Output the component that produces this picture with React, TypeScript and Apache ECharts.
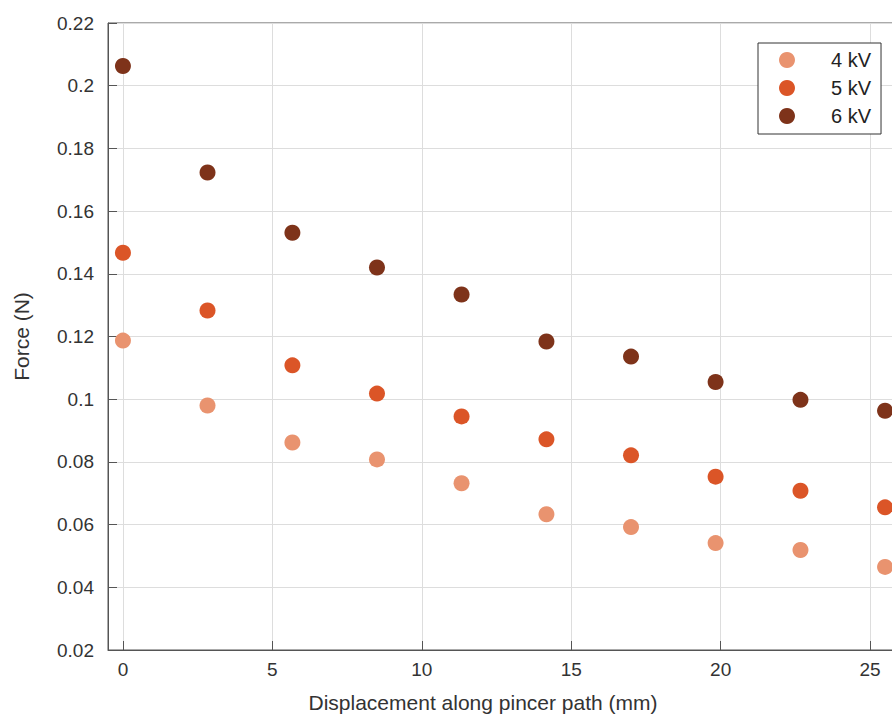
import React, { useEffect, useRef } from "react";
import * as echarts from "echarts";

const displacement = [0, 2.83, 5.67, 8.5, 11.33, 14.17, 17, 19.83, 22.67, 25.5];
const force4kV = [0.1187, 0.098, 0.0862, 0.0808, 0.0732, 0.0633, 0.0592, 0.0541, 0.0519, 0.0465];
const force5kV = [0.1467, 0.1283, 0.1108, 0.1018, 0.0945, 0.0872, 0.0821, 0.0753, 0.0708, 0.0655];
const force6kV = [0.2063, 0.1723, 0.1531, 0.142, 0.1334, 0.1184, 0.1136, 0.1055, 0.0998, 0.0963];
const seriesNames = ["4 kV", "5 kV", "6 kV"];
const seriesColors = ["#E9936F", "#DB5527", "#7E331A"];
const xAxisTitle = "Displacement along pincer path (mm)";
const yAxisTitle = "Force (N)";

const FONT = "'Liberation Sans', Arial, Helvetica, sans-serif";

export default function App() {
  const ref = useRef<HTMLDivElement>(null);
  useEffect(() => {
    if (!ref.current) return;
    const chart = echarts.init(ref.current, undefined, { renderer: "svg" });
    const allValues = [force4kV, force5kV, force6kV];
    chart.setOption({
      animation: false,
      backgroundColor: "#ffffff",
      textStyle: { fontFamily: FONT },
      grid: {
        left: 108,
        top: 23,
        right: 60,
        bottom: 70,
        show: true,
        borderColor: "#555555",
        borderWidth: 1,
      },
      legend: {
        orient: "vertical",
        left: 758,
        top: 43,
        data: seriesNames,
        itemWidth: 16,
        itemHeight: 16,
        itemGap: 8,
        padding: [7, 10, 8, 21],
        borderColor: "#333333",
        borderWidth: 1,
        backgroundColor: "#ffffff",
        textStyle: {
          fontFamily: FONT,
          fontSize: 20,
          color: "#222222",
          padding: [0, 0, 0, 31],
        },
      },
      xAxis: {
        type: "value",
        min: -0.5,
        max: 26,
        name: xAxisTitle,
        nameLocation: "middle",
        nameGap: 42,
        nameTextStyle: {
          fontFamily: FONT,
          fontSize: 21,
          color: "#333333",
          padding: [0, 42, 0, 0],
        },
        axisLine: { show: true, onZero: false, lineStyle: { color: "#555555", width: 1 } },
        axisTick: { show: true, inside: true, length: 9, lineStyle: { color: "#555555" } },
        axisLabel: {
          margin: 10,
          fontSize: 19,
          color: "#333333",
          fontFamily: FONT,
          formatter: (v: number) => (Math.abs(v % 5) < 1e-9 ? String(v) : ""),
        },
        splitLine: { show: true, lineStyle: { color: "#dddddd", width: 1 } },
      },
      yAxis: {
        type: "value",
        min: 0.02,
        max: 0.22,
        interval: 0.02,
        name: yAxisTitle,
        nameLocation: "middle",
        nameGap: 76,
        nameTextStyle: { fontFamily: FONT, fontSize: 21, color: "#333333" },
        axisLine: { show: true, onZero: false, lineStyle: { color: "#555555", width: 1 } },
        axisTick: { show: true, inside: true, length: 9, lineStyle: { color: "#555555" } },
        axisLabel: {
          margin: 14,
          fontSize: 19,
          color: "#333333",
          fontFamily: FONT,
          formatter: (v: number) => String(parseFloat(v.toFixed(2))),
        },
        splitLine: { show: true, lineStyle: { color: "#dddddd", width: 1 } },
      },
      series: seriesNames.map((name, i) => ({
        name,
        type: "scatter",
        symbol: "circle",
        symbolSize: 16,
        itemStyle: { color: seriesColors[i], opacity: 1 },
        data: displacement.map((x, j) => [x, allValues[i][j]]),
      })),
    });
    return () => chart.dispose();
  }, []);
  return (
    <div
      style={{
        position: "fixed",
        left: 0,
        top: 0,
        width: 892,
        height: 720,
        overflow: "hidden",
        background: "#ffffff",
      }}
    >
      <div ref={ref} style={{ width: 960, height: 720 }} />
    </div>
  );
}
